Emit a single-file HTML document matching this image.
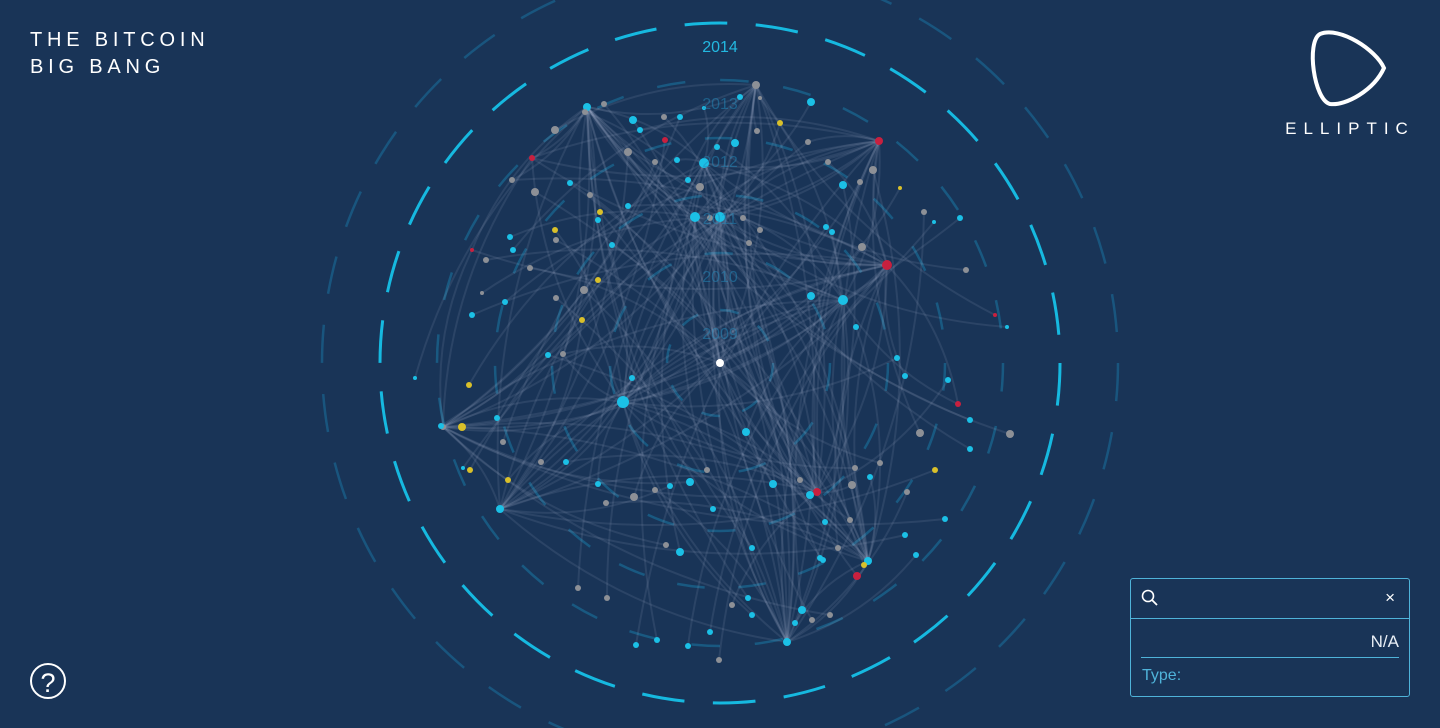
<!DOCTYPE html>
<html><head><meta charset="utf-8"><style>
html,body{margin:0;padding:0;width:1440px;height:728px;overflow:hidden;background:#193457;font-family:"Liberation Sans",sans-serif}
#title{position:absolute;left:30px;top:27px;color:#fff;font-size:20px;letter-spacing:4.8px;line-height:27px}
#logo{position:absolute;left:1278px;top:28px;width:140px;text-align:center}
#logo-text{color:#fff;font-size:17px;letter-spacing:7px;margin-top:6px;margin-left:4px}
#help{position:absolute;left:30px;top:663px;width:36px;height:36px;border:2px solid #fff;border-radius:50%;color:#fff;font-size:27px;text-align:center;line-height:36px;box-sizing:border-box}
#panel{position:absolute;left:1130px;top:578px;width:280px;height:119px;border:1px solid #4fb3d9;border-radius:3px;box-sizing:border-box}
#search-row{height:39px;border-bottom:1px solid #4fb3d9;position:relative}
#na{position:absolute;right:10px;top:53px;color:#e8eef5;font-size:17px}
#sep{position:absolute;left:10px;right:10px;top:78px;border-top:1px solid #4fb3d9}
#type{position:absolute;left:11px;top:88px;color:#4fb3d9;font-size:16px}
#close{position:absolute;right:14px;top:9px;color:#fff;font-size:17px}
</style></head><body>
<svg id="chart" width="1440" height="728" style="position:absolute;left:0;top:0">
<g id="rings"></g><g id="edges"></g><g id="nodes"></g><g id="labels"></g>
</svg>
<div id="title">THE BITCOIN<br>BIG BANG</div>
<div id="logo">
<svg width="84" height="80" viewBox="0 0 84 80"><path d="M14 6 C34 -2 70 22 78 40 C68 62 40 78 24 76 C8 72 0 14 14 6 Z" fill="none" stroke="#fff" stroke-width="4"/></svg>
<div id="logo-text">ELLIPTIC</div></div>
<div id="help">?</div>
<div id="panel">
<div id="search-row">
<svg style="position:absolute;left:10px;top:10px" width="18" height="18"><circle cx="7" cy="7" r="5.5" fill="none" stroke="#fff" stroke-width="1.6"/><line x1="11" y1="11" x2="16" y2="16" stroke="#fff" stroke-width="1.8"/></svg>
<span id="close">×</span></div>
<div id="na">N/A</div>
<div id="sep"></div>
<div id="type">Type:</div>
</div>
<script>
const NS="http://www.w3.org/2000/svg";
const years=["2009","2010","2011","2012","2013","2014"];
const ringRadii=[53,110,168,225,283,340];
const CX=720,CY=363;
const colors={c:"#1bc0e6",g:"#8d9096",y:"#d9c02a",r:"#c8203f",w:"#ffffff"};
const nodeX=[720,623,887,720,695,587,443,787,868,817,879,756,843,704,500,
604,633,665,680,704,740,760,811,555,585,532,512,535,555,570,590,600,628,655,677,700,717,735,757,780,808,828,843,860,873,900,924,934,960,966,472,486,510,513,482,505,472,462,508,548,563,584,582,598,469,415,441,497,503,470,463,541,566,598,606,634,655,670,690,707,713,746,773,800,810,825,838,852,855,870,880,907,935,945,970,970,958,1010,995,1007,920,905,948,897,856,862,832,826,811,760,749,743,710,688,664,640,628,612,598,556,530,556,632,666,680,752,864,823,820,812,802,710,732,752,795,850,916,905,830,857,748,688,657,578,607,636,719];
const nodeY=[363,402,265,217,217,107,427,642,561,492,141,85,300,163,509,
104,120,140,117,108,97,98,102,130,112,158,180,192,230,183,195,212,152,162,160,187,147,143,131,123,142,162,185,182,170,188,212,222,218,270,250,260,237,250,293,302,315,427,480,355,354,290,320,280,385,378,426,418,442,470,468,462,462,484,503,497,490,486,482,470,509,432,484,480,495,522,548,485,468,477,463,492,470,519,449,420,404,434,315,327,433,376,380,358,327,247,232,227,296,230,243,218,218,180,117,130,206,245,220,240,268,298,378,545,552,548,565,560,558,620,610,632,605,615,623,520,555,535,615,576,598,646,640,588,598,645,660];
const nodeSize=[4,6,5,5,5,4,3,4,4,4,4,4,5,5,4,
3,4,3,3,2,3,2,4,4,3,3,3,4,3,3,3,3,4,3,3,4,3,4,3,3,3,3,4,3,4,2,3,2,3,3,2,3,3,3,2,3,3,4,3,3,3,4,3,3,3,2,3,3,3,3,2,3,3,3,3,4,3,3,4,3,3,4,4,3,4,3,3,4,3,3,3,3,3,3,3,3,3,4,2,2,4,3,3,3,3,4,3,3,4,3,3,3,3,3,3,3,3,3,3,3,3,3,3,3,4,3,3,3,3,3,4,3,3,3,3,3,3,3,3,4,3,3,3,3,3,3,3];
const nodeColor=["w","c","r","c","c","c","g","c","c","r","r","g","c","c","c",
"g","c","r","c","c","c","g","c","g","g","r","g","g","y","c","g","y","g","g","c","g","c","c","g","y","g","g","c","g","g","y","g","c","c","g","r","g","c","c","g","c","c","y","y","c","g","g","y","y","y","c","c","c","g","y","c","g","c","c","g","g","g","c","c","g","c","c","c","g","c","c","g","g","g","c","g","g","y","c","c","c","r","g","r","c","g","c","c","c","c","g","c","c","c","g","g","g","g","c","g","c","c","c","c","g","g","g","c","g","c","c","y","c","c","g","c","c","g","c","c","g","c","c","g","r","c","c","c","g","g","c","g"];
const edgesFrom=[1,1,1,1,1,1,1,1,1,1,1,1,2,2,2,2,2,2,2,2,2,2,3,3,3,3,3,3,3,3,4,4,4,4,4,4,5,5,5,5,5,5,5,5,6,6,6,6,6,7,7,7,7,7,7,8,8,8,8,8,8,9,9,9,9,9,10,10,10,10,10,11,11,11,11,13,13,13,13,13,14,14,14,14,12,12,12,12,0,0,0,0];
const edgesTo=[5,3,4,2,8,9,14,6,12,25,40,60,3,4,10,5,12,9,25,50,96,1,5,11,7,14,8,10,6,9,5,11,7,10,1,8,25,26,13,0,9,7,60,14,1,14,50,25,8,1,0,14,12,4,3,1,3,10,5,2,7,5,3,11,10,6,25,4,13,12,3,0,1,9,7,2,0,6,7,8,5,13,9,12,7,4,1,5,3,8,11,6];

function line(a,b,g){
  const x1=nodeX[a],y1=nodeY[a],x2=nodeX[b],y2=nodeY[b];
  const mx=(x1+x2)/2+(y2-y1)*0.15,my=(y1+y2)/2-(x2-x1)*0.15;
  const p=document.createElementNS(NS,"path");
  p.setAttribute("d",`M${x1} ${y1} Q${mx} ${my} ${x2} ${y2}`);
  p.setAttribute("fill","none");p.setAttribute("stroke","rgba(190,200,225,0.11)");p.setAttribute("stroke-width","2");
  
  
  g.appendChild(p);
}
const rg=document.getElementById("rings");
ringRadii.forEach((r,i)=>{
  const c=document.createElementNS(NS,"circle");
  c.setAttribute("cx",CX);c.setAttribute("cy",CY);c.setAttribute("r",r);c.setAttribute("fill","none");
  const outer=i===ringRadii.length-1;
  c.setAttribute("stroke",outer?"#16b9e0":"rgba(27,160,210,0.35)");
  c.setAttribute("stroke-width",outer?3:2.5);
  const circ=2*Math.PI*r;const n=outer?30:Math.max(8,Math.round(r/10));
  c.setAttribute("stroke-dasharray",outer?`${circ/n*0.6} ${circ/n*0.4}`:`${circ/n*0.45} ${circ/n*0.55}`);
  
  
  rg.appendChild(c);
  const t=document.createElementNS(NS,"text");
  t.setAttribute("x",CX);t.setAttribute("y",CY-r+29);t.setAttribute("text-anchor","middle");
  t.setAttribute("font-size","16");t.setAttribute("fill",outer?"#23b8e0":"rgba(35,140,190,0.5)");
  t.setAttribute("font-family","Liberation Sans, sans-serif");
  t.textContent=years[i];
  
  
  document.getElementById("labels").appendChild(t);
});
const oc=document.createElementNS(NS,"circle");
oc.setAttribute("cx",CX);oc.setAttribute("cy",CY);oc.setAttribute("r",398);oc.setAttribute("fill","none");
oc.setAttribute("stroke","rgba(27,150,200,0.35)");oc.setAttribute("stroke-width","2.5");
oc.setAttribute("stroke-dasharray",`${2*Math.PI*398/36*0.55} ${2*Math.PI*398/36*0.45}`);


rg.appendChild(oc);
const eg=document.getElementById("edges");
edgesFrom.forEach((a,i)=>line(a,edgesTo[i],eg));
for(let i=15;i<nodeX.length;i++){line(i,(i*7)%15,eg);}
const ng=document.getElementById("nodes");
nodeX.forEach((x,i)=>{
  const c=document.createElementNS(NS,"circle");
  c.setAttribute("cx",x);c.setAttribute("cy",nodeY[i]);c.setAttribute("r",nodeSize[i]);
  c.setAttribute("fill",colors[nodeColor[i]]);
  
  
  ng.appendChild(c);
});
</script>
</body></html>
